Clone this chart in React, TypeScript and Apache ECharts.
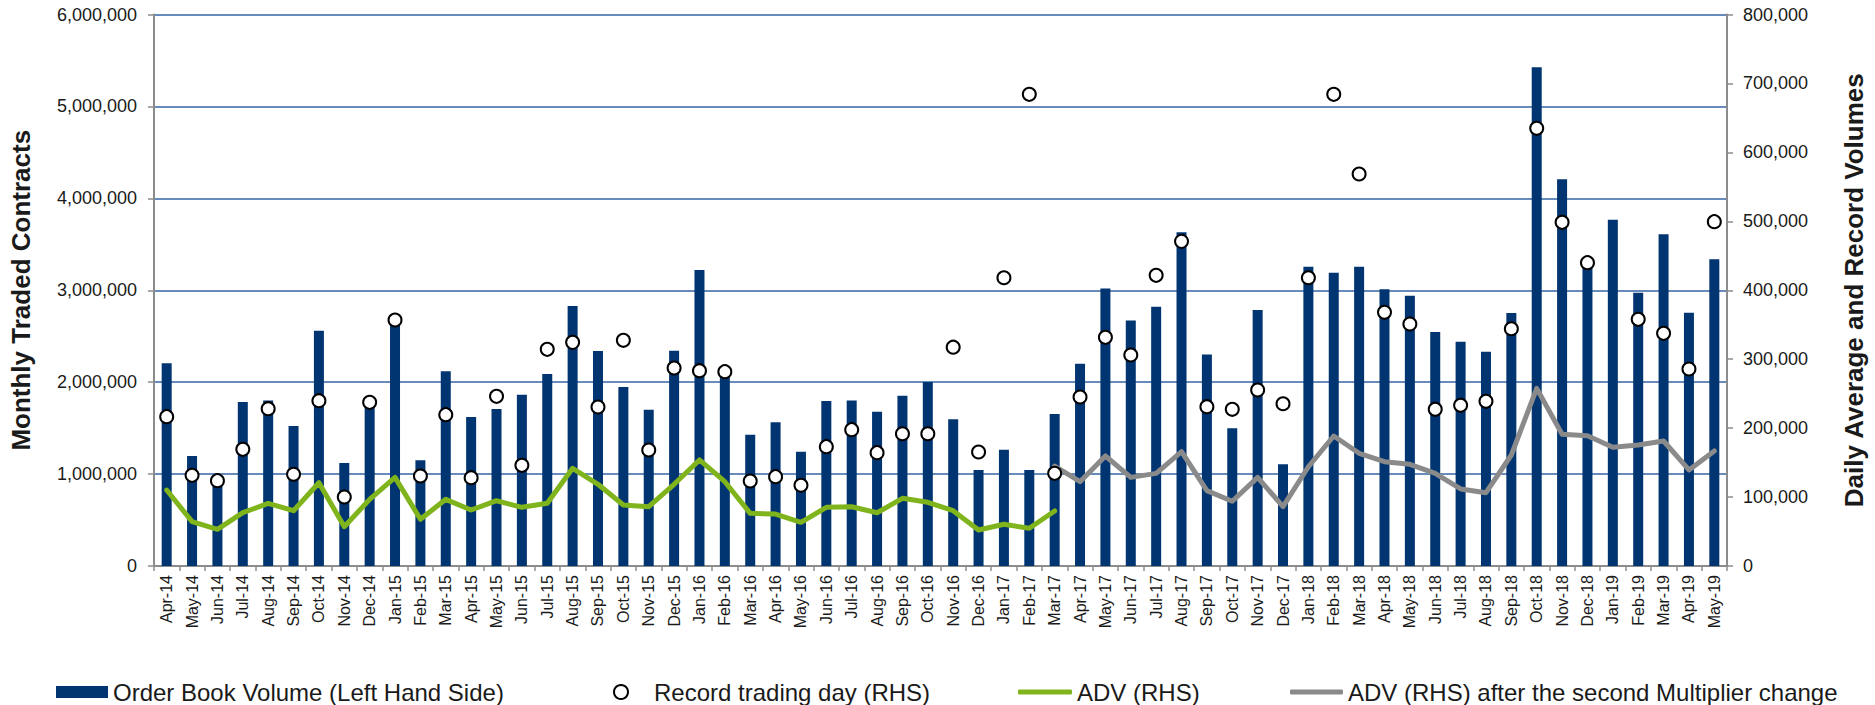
import React, { useEffect, useRef } from "react";
import * as echarts from "echarts";

const months = [
  "Apr-14", "May-14", "Jun-14", "Jul-14", "Aug-14", "Sep-14", "Oct-14", "Nov-14", "Dec-14",
  "Jan-15", "Feb-15", "Mar-15", "Apr-15", "May-15", "Jun-15", "Jul-15", "Aug-15", "Sep-15", "Oct-15", "Nov-15", "Dec-15",
  "Jan-16", "Feb-16", "Mar-16", "Apr-16", "May-16", "Jun-16", "Jul-16", "Aug-16", "Sep-16", "Oct-16", "Nov-16", "Dec-16",
  "Jan-17", "Feb-17", "Mar-17", "Apr-17", "May-17", "Jun-17", "Jul-17", "Aug-17", "Sep-17", "Oct-17", "Nov-17", "Dec-17",
  "Jan-18", "Feb-18", "Mar-18", "Apr-18", "May-18", "Jun-18", "Jul-18", "Aug-18", "Sep-18", "Oct-18", "Nov-18", "Dec-18",
  "Jan-19", "Feb-19", "Mar-19", "Apr-19", "May-19",
];

// Order Book Volume (left axis)
const orderBookVolume = [
  2205000, 1197000, 935000, 1785000, 1800000, 1523000, 2560000, 1120000, 1770000,
  2660000, 1150000, 2118000, 1620000, 1708000, 1864000, 2089000, 2829000, 2339000, 1948000, 1700000, 2343000,
  3220000, 2130000, 1429000, 1563000, 1244000, 1795000, 1800000, 1679000, 1853000, 2002000, 1596000, 1045000,
  1266000, 1045000, 1654000, 2201000, 3020000, 2670000, 2820000, 3630000, 2300000, 1498000, 2786000, 1106000,
  3257000, 3190000, 3257000, 3010000, 2940000, 2546000, 2440000, 2332000, 2753000, 5426000, 4208000, 3300000,
  3768000, 2974000, 3609000, 2756000, 3337000,
];

// Record trading day (right axis)
const recordDay = [
  216600, 131500, 123800, 169200, 228200, 133000, 239800, 100100, 237400,
  356800, 130500, 219500, 128100, 246100, 146000, 314300, 324400, 230600, 327400, 168300, 287200,
  283300, 281900, 123300, 129600, 117100, 173100, 197800, 164400, 191900, 191900, 317400, 165400,
  418200, 684200, 134400, 245100, 331700, 306100, 421600, 470900, 231100, 227300, 255300, 235400,
  418200, 684200, 568600, 368000, 351000, 227300, 233100, 238900, 344200, 634900, 498500, 440000,
  null, 357800, 337500, 285700, 499500,
];

// ADV (RHS): Apr-14 .. Mar-17
const adv = [
  110200, 64300, 53200, 77300, 90900, 80200, 120800, 57000, 96700,
  128600, 67700, 96700, 81200, 94700, 85100, 90900, 141700, 118500, 88500, 86000, 118500,
  153800, 122300, 76400, 75400, 63400, 85100, 86000, 77300, 98200, 92400, 80200, 52200,
  60500, 54700, 79800,
];

// ADV (RHS) after the second Multiplier change: Mar-17 .. May-19
const advAfterStart = "Mar-17";
const advAfter = [
  145000, 122300, 159600, 128600, 134400, 165900, 109300, 93900, 128600, 86000,
  144000, 188600, 163500, 151300, 147500, 134400, 111700, 106300, 161000, 257700, 191000, 189000,
  172200, 175500, 181300, 139300, 166800,
];

const leftTicks = { min: 0, max: 6000000, interval: 1000000 };
const rightTicks = { min: 0, max: 800000, interval: 100000 };

const NAMES = {
  bar: "Order Book Volume (Left Hand Side)",
  rec: "Record trading day (RHS)",
  adv: "ADV (RHS)",
  after: "ADV (RHS) after the second Multiplier change",
};

const FONT = "'Liberation Sans', Arial, sans-serif";
const TXT = "#1a1a1a";

export default function App() {
  const ref = useRef<HTMLDivElement>(null);
  useEffect(() => {
    document.body.style.margin = "0";
    const chart = echarts.init(ref.current!, null, { renderer: "svg" });

    const advData = months.map((_, i) => (i < adv.length ? adv[i] : null));
    const startIdx = months.indexOf(advAfterStart);
    const advAfterData = months.map((_, i) =>
      i >= startIdx && i - startIdx < advAfter.length ? advAfter[i - startIdx] : null
    );

    const legendText = { fontSize: 24, color: TXT, fontFamily: FONT, lineHeight: 28 };
    const legendBase = { top: 678, padding: 0, selectedMode: false, textStyle: legendText };
    const axisGray = "#8c8c8c";

    chart.setOption({
      animation: false,
      backgroundColor: "#ffffff",
      textStyle: { fontFamily: FONT },
      grid: { left: 153, right: 144, top: 14.5, bottom: 139, containLabel: false },
      legend: [
        {
          ...legendBase,
          data: [{ name: NAMES.bar, icon: "rect" }],
          left: 56, itemWidth: 52, itemHeight: 12,
        },
        {
          ...legendBase,
          data: [{ name: NAMES.rec, icon: "circle", itemStyle: { color: "#fff", borderColor: "#000", borderWidth: 2 } }],
          left: 613, itemWidth: 56, itemHeight: 14,
        },
        {
          ...legendBase,
          data: [{ name: NAMES.adv, icon: "roundRect" }],
          left: 1018, itemWidth: 54, itemHeight: 5,
        },
        {
          ...legendBase,
          data: [{ name: NAMES.after, icon: "roundRect" }],
          left: 1290, itemWidth: 53, itemHeight: 5,
        },
      ],
      xAxis: {
        type: "category",
        data: months,
        boundaryGap: true,
        axisLine: { lineStyle: { color: axisGray, width: 2 } },
        axisTick: { show: true, alignWithLabel: false, length: 5, lineStyle: { color: axisGray, width: 1.5 } },
        axisLabel: { interval: 0, rotate: 90, fontSize: 16, color: TXT, margin: 9, fontFamily: FONT },
        splitLine: { show: false },
      },
      yAxis: [
        {
          type: "value",
          ...leftTicks,
          name: "Monthly Traded Contracts",
          nameLocation: "middle",
          nameRotate: 90,
          nameGap: 120,
          nameTextStyle: { fontSize: 26, fontWeight: "bold", color: TXT, fontFamily: FONT },
          axisLine: { show: true, lineStyle: { color: axisGray, width: 2 } },
          axisTick: { show: true, length: 6, lineStyle: { color: axisGray, width: 1.5 } },
          axisLabel: { fontSize: 18, color: TXT, margin: 17, fontFamily: FONT },
          splitLine: { show: true, lineStyle: { color: "#3464a3", width: 1.5 } },
        },
        {
          type: "value",
          ...rightTicks,
          position: "right",
          name: "Daily Average and Record Volumes",
          nameLocation: "middle",
          nameRotate: 90,
          nameGap: 114,
          nameTextStyle: { fontSize: 26, fontWeight: "bold", color: TXT, fontFamily: FONT },
          axisLine: { show: true, lineStyle: { color: axisGray, width: 2 } },
          axisTick: { show: true, length: 6, lineStyle: { color: axisGray, width: 1.5 } },
          axisLabel: { fontSize: 18, color: TXT, margin: 16, fontFamily: FONT },
          splitLine: { show: false },
        },
      ],
      series: [
        {
          name: NAMES.bar,
          type: "bar",
          yAxisIndex: 0,
          data: orderBookVolume,
          barWidth: 10,
          itemStyle: { color: "#013571" },
          z: 2,
        },
        {
          name: NAMES.adv,
          type: "line",
          yAxisIndex: 1,
          data: advData,
          symbol: "none",
          connectNulls: false,
          color: "#80b41c",
          lineStyle: { color: "#80b41c", width: 5, cap: "round", join: "round" },
          z: 3,
        },
        {
          name: NAMES.after,
          type: "line",
          yAxisIndex: 1,
          data: advAfterData,
          symbol: "none",
          connectNulls: false,
          color: "#8a8a8a",
          lineStyle: { color: "#8a8a8a", width: 5, cap: "round", join: "round" },
          z: 3,
        },
        {
          name: NAMES.rec,
          type: "scatter",
          yAxisIndex: 1,
          data: recordDay,
          symbol: "circle",
          symbolSize: 13,
          itemStyle: { color: "#ffffff", borderColor: "#000000", borderWidth: 2, opacity: 1 },
          z: 5,
        },
      ],
    });
    return () => chart.dispose();
  }, []);
  return <div ref={ref} style={{ width: 1875, height: 705, position: "fixed", left: 0, top: 0 }} />;
}
